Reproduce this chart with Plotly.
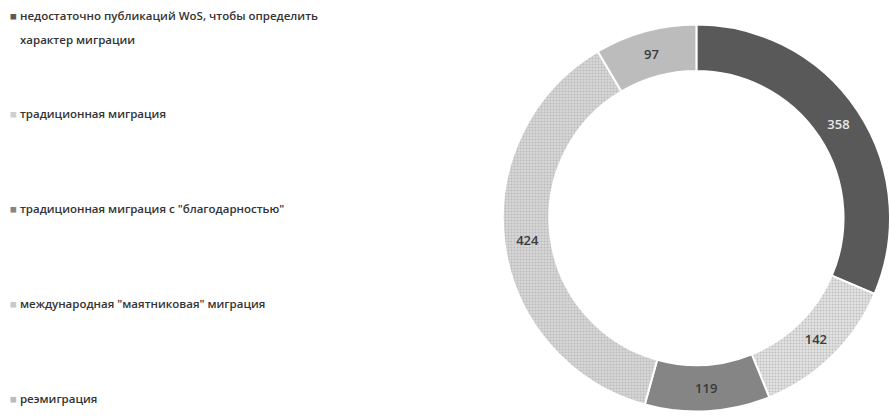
import plotly.graph_objects as go

categories = [
    "недостаточно публикаций WoS, чтобы определить<br>характер миграции",
    "традиционная миграция",
    "традиционная миграция с \"благодарностью\"",
    "международная \"маятниковая\" миграция",
    "реэмиграция",
]
values = [358, 142, 119, 424, 97]

colors = ["#595959", "#e2e2e2", "#858585", "#d6d6d6", "#bcbcbc"]
pattern_shapes = ["", ".", "", ".", ""]
pattern_fg = ["#595959", "#9a9a9a", "#858585", "#a0a0a0", "#bcbcbc"]
legend_colors = ["#595959", "#d0d0d0", "#858585", "#c8c8c8", "#bcbcbc"]
text_colors = ["#e8e8e8", "#3a3a3a", "#3a3a3a", "#3a3a3a", "#3a3a3a"]

fig = go.Figure()
fig.add_trace(go.Pie(
    labels=categories,
    values=values,
    sort=False,
    direction="clockwise",
    rotation=0,
    hole=0.76,
    textinfo="value",
    textposition="inside",
    insidetextorientation="horizontal",
    textfont=dict(family="Open Sans", size=13, color=text_colors, weight=600),
    marker=dict(
        colors=colors,
        line=dict(color="white", width=2),
        pattern=dict(shape=pattern_shapes, fgcolor=pattern_fg, bgcolor=colors,
                     size=3, solidity=0.35, fillmode="overlay"),
    ),
    showlegend=False,
    domain=dict(x=[0.565, 1.0], y=[0.012, 0.9424]),
))

legend_y = [15, 113, 208, 303, 398]
line_gap = 24
for name, col, yy in zip(categories, legend_colors, legend_y):
    lines = name.split("<br>")
    for i, ln in enumerate(lines):
        prefix = f"<span style='color:{col}'>■</span> " if i == 0 else ""
        fig.add_annotation(
            x=8 if i == 0 else 18, y=417 - (yy + i * line_gap), xref="x", yref="y",
            text=prefix + ln,
            showarrow=False, xanchor="left", yanchor="middle", align="left",
            font=dict(family="Open Sans", size=11.5, color="#333333", weight=600),
        )

fig.update_xaxes(range=[0, 890], visible=False, fixedrange=True)
fig.update_yaxes(range=[0, 417], visible=False, fixedrange=True)
fig.update_layout(
    width=890, height=417,
    margin=dict(l=0, r=0, t=0, b=0),
    paper_bgcolor="white", plot_bgcolor="white",
)
fig.write_html("out.html")
